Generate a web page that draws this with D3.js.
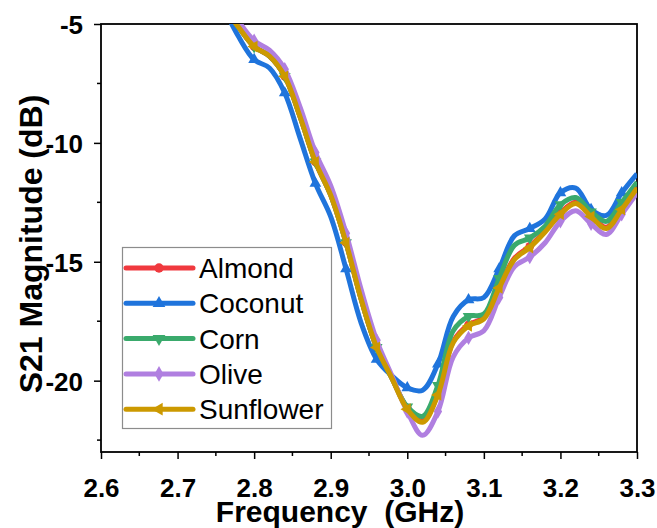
<!DOCTYPE html>
<html>
<head>
<meta charset="utf-8">
<script src="https://cdn.jsdelivr.net/npm/d3@7"></script>
<style>
  body { margin: 0; background: #fff; }
  text { font-family: "Liberation Sans", Arial, sans-serif; }
</style>
</head>
<body>
<div id="chart"></div>
<script>
// Frequency samples (GHz)
const freq = [2.76, 2.78, 2.80, 2.82, 2.84, 2.86, 2.88, 2.90, 2.92, 2.94, 2.96, 2.98, 3.00, 3.02,
  3.04, 3.06, 3.08, 3.10, 3.12, 3.14, 3.16, 3.18, 3.20, 3.22, 3.24, 3.26, 3.28, 3.30];

// S21 magnitude (dB) for each oil
const almond = [-4.3, -5.15, -5.95, -6.35, -7.2, -8.9, -10.8, -12.2, -14.2, -16.6, -18.6, -19.9, -21.15, -21.7,
  -20.55, -18.35, -17.65, -17.35, -16.05, -14.85, -14.35, -13.7, -12.95, -12.5, -13.05, -13.55, -12.75, -11.85];
const coconut = [-4.3, -5.55, -6.5, -6.85, -7.9, -9.8, -11.7, -13.1, -15.3, -17.6, -19.1, -19.8, -20.3, -20.4,
  -19.3, -17.3, -16.6, -16.5, -15.3, -13.9, -13.6, -13.2, -12.1, -11.9, -12.8, -13.05, -12.1, -11.3];
const corn = [-4.3, -5.15, -5.95, -6.35, -7.2, -8.9, -10.8, -12.2, -14.2, -16.6, -18.6, -19.9, -21.1, -21.5,
  -20.2, -17.9, -17.3, -17.2, -15.7, -14.3, -14.0, -13.5, -12.6, -12.3, -12.9, -13.3, -12.5, -11.65];
const olive = [-3.9, -4.9, -5.7, -6.1, -6.9, -8.5, -10.4, -11.8, -13.8, -16.2, -18.3, -19.8, -21.3, -22.3,
  -21.3, -19.0, -18.2, -17.9, -16.5, -15.2, -14.8, -14.2, -13.3, -12.85, -13.4, -13.85, -13.0, -12.1];
const sunflower = [-4.3, -5.15, -5.95, -6.35, -7.2, -8.9, -10.8, -12.2, -14.2, -16.6, -18.6, -19.9, -21.2, -21.75,
  -20.6, -18.4, -17.7, -17.4, -16.1, -14.9, -14.4, -13.75, -13.0, -12.55, -13.1, -13.6, -12.8, -11.9];

const seriesNames = ["Almond", "Coconut", "Corn", "Olive", "Sunflower"];
const seriesValues = [almond, coconut, corn, olive, sunflower];
const seriesColors = ["#f0393e", "#1f74dc", "#3aaa6c", "#b07fe0", "#cc9900"];
const seriesSymbols = [d3.symbolCircle, d3.symbolTriangle, d3.symbolTriangle, d3.symbolDiamond, d3.symbolTriangle];
const symbolRotate = [0, 0, 180, 0, -90];

const xTicks = [2.6, 2.7, 2.8, 2.9, 3.0, 3.1, 3.2, 3.3];
const yTicks = [-20, -15, -10, -5];

const width = 657;
const height = 528;
const margin = { top: 24, right: 20, bottom: 76, left: 101 };

const svg = d3.select("#chart")
  .append("svg")
  .attr("width", width)
  .attr("height", height);

const x = d3.scaleLinear().domain([2.6, 3.3]).range([margin.left, width - margin.right]);
const y = d3.scaleLinear().domain([-23, -5]).range([height - margin.bottom, margin.top]);

svg.append("clipPath").attr("id", "plot-clip")
  .append("rect")
  .attr("x", margin.left).attr("y", margin.top)
  .attr("width", x.range()[1] - margin.left)
  .attr("height", y.range()[0] - margin.top);

// axes with major + minor ticks
const bottomY = y.range()[0];
const xMinor = d3.range(2.65, 3.3, 0.1);
const yMinor = [-22.5, -17.5, -12.5, -7.5];

const gx = svg.append("g").attr("transform", `translate(0,${bottomY})`);
gx.call(d3.axisBottom(x).tickValues(xTicks).tickFormat(d3.format(".1f")).tickSize(7).tickSizeOuter(0));
gx.append("g").selectAll("line").data(xMinor).join("line")
  .attr("x1", d => x(d)).attr("x2", d => x(d))
  .attr("y1", 0).attr("y2", 4)
  .attr("stroke", "#000").attr("stroke-width", 1.5);

const gy = svg.append("g").attr("transform", `translate(${margin.left},0)`);
gy.call(d3.axisLeft(y).tickValues(yTicks).tickFormat(d => String(d)).tickSize(7).tickSizeOuter(0));
gy.append("g").selectAll("line").data(yMinor).join("line")
  .attr("y1", d => y(d)).attr("y2", d => y(d))
  .attr("x1", 0).attr("x2", -4)
  .attr("stroke", "#000").attr("stroke-width", 1.5);

[gx, gy].forEach(g => {
  g.select(".domain").remove();
  g.selectAll(".tick line").attr("stroke", "#000").attr("stroke-width", 1.5);
  g.selectAll(".tick text")
    .attr("fill", "#000")
    .style("font-size", "26px")
    .style("font-weight", "bold")
    .style("font-family", "'Liberation Sans', Arial, sans-serif");
});
gx.selectAll(".tick text").attr("dy", null).attr("y", 45);
gy.selectAll(".tick text").attr("x", -18).attr("dy", "0.36em");

// frame
svg.append("rect")
  .attr("x", margin.left).attr("y", margin.top)
  .attr("width", x.range()[1] - margin.left)
  .attr("height", bottomY - margin.top)
  .attr("fill", "none").attr("stroke", "#000").attr("stroke-width", 1.8);

// series
const line = d3.line()
  .x((d, i) => x(freq[i]))
  .y(d => y(d))
  .curve(d3.curveCatmullRom.alpha(0.5));

const plot = svg.append("g").attr("clip-path", "url(#plot-clip)");

seriesValues.forEach((vals, k) => {
  const g = plot.append("g");
  g.append("path")
    .datum(vals)
    .attr("d", line)
    .attr("fill", "none")
    .attr("stroke", seriesColors[k])
    .attr("stroke-width", 5)
    .attr("stroke-linejoin", "round");
  g.selectAll("path.marker")
    .data(vals.map((v, i) => [freq[i], v]).filter((d, i) => i >= 2 && i % 2 === 0))
    .join("path")
    .attr("class", "marker")
    .attr("d", d3.symbol().type(seriesSymbols[k]).size(60))
    .attr("transform", d => `translate(${x(d[0])},${y(d[1])}) rotate(${symbolRotate[k]})`)
    .attr("fill", seriesColors[k]);
});

// legend
const legend = svg.append("g");
legend.append("rect")
  .attr("x", 122.5).attr("y", 247.5)
  .attr("width", 209).attr("height", 181)
  .attr("fill", "#fff").attr("stroke", "#8c8c8c").attr("stroke-width", 1.2);

seriesNames.forEach((name, k) => {
  const cy = 268 + k * 35.3;
  legend.append("line")
    .attr("x1", 126).attr("x2", 193)
    .attr("y1", cy).attr("y2", cy)
    .attr("stroke", seriesColors[k]).attr("stroke-width", 5)
    .attr("stroke-linecap", "round");
  legend.append("path")
    .attr("d", d3.symbol().type(seriesSymbols[k]).size(70))
    .attr("transform", `translate(159,${cy}) rotate(${symbolRotate[k]})`)
    .attr("fill", seriesColors[k]);
  legend.append("text")
    .attr("x", 199).attr("y", cy)
    .attr("dy", "0.36em")
    .style("font-size", "28px")
    .text(name);
});

// axis titles
svg.append("text")
  .attr("x", 340).attr("y", 522)
  .attr("text-anchor", "middle")
  .style("font-size", "30px").style("font-weight", "bold")
  .style("white-space", "pre")
  .attr("xml:space", "preserve")
  .text("Frequency  (GHz)");

svg.append("text")
  .attr("transform", "translate(42,244) rotate(-90)")
  .attr("text-anchor", "middle")
  .style("font-size", "32px").style("font-weight", "bold")
  .text("S21 Magnitude (dB)");
</script>
</body>
</html>
